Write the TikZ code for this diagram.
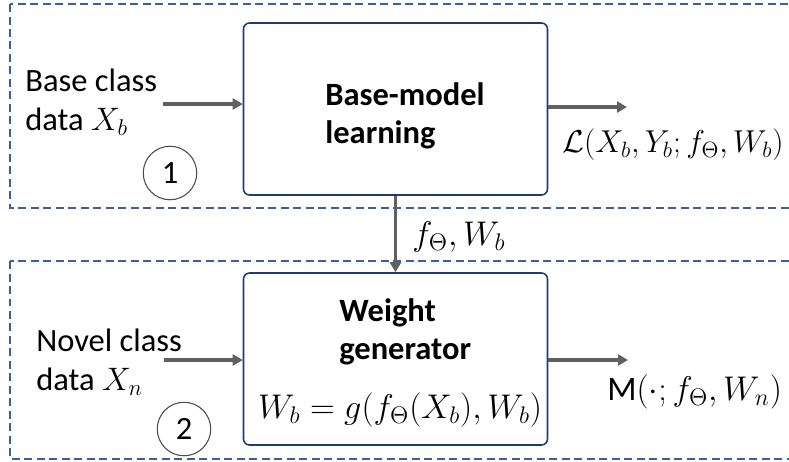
\RequirePackage{fix-cm}
\documentclass[tikz,border=0pt]{standalone}
\usepackage{amsmath,amssymb}
\usepackage{fontspec}
\setmainfont{Carlito}
\usepackage{tikz}
\usetikzlibrary{positioning,calc,arrows.meta}

\definecolor{stageblue}{HTML}{3C5E9E}
\definecolor{boxnavy}{HTML}{1F3A73}
\definecolor{flowgray}{HTML}{606060}

\begin{document}
\begin{tikzpicture}[x=0.02cm, y=-0.02cm,
    stage/.style={draw=stageblue, line width=0.9pt, dash pattern=on 0.16cm off 0.09cm},
    procbox/.style={draw=boxnavy, line width=0.9pt, rounded corners=0.12cm, minimum width=6.08cm, minimum height=3.44cm},
    flow/.style={draw=flowgray, line width=1.8pt, -{Triangle[length=0.2cm, width=0.22cm]}},
    stepnum/.style={draw=black!70, circle, line width=0.6pt, minimum size=1.07cm, inner sep=0pt},
    txt/.style={font=\fontsize{18.5}{22.5}\selectfont, inner sep=0pt},
    mathtxt/.style={font=\fontsize{19.5}{24}\selectfont, inner sep=0pt}]
            \useasboundingbox (0,0) rectangle (789,461);
            \clip (0,0) rectangle (789,461);

            % Stages
            \foreach \t/\b in {4/208, 261/459} {
                \draw[stage] (10,\t) rectangle (820,\b);
            }

            % Blocks
            \node[procbox] (base) at (395.5,109) {};
            \node[procbox] (gen) at (395.5,359) {};
            \node[txt, font=\fontsize{18.5}{21.5}\selectfont\bfseries, align=left, anchor=west] (basetxt) at (325,116) {Base-model\\learning};
            \node[txt, font=\fontsize{18.5}{22}\selectfont\bfseries, align=left, anchor=west] (gentxt) at (339,332) {Weight\\generator};
            \node[mathtxt] (genrule) at (400,410) {$W_b = g(f_\Theta(X_b), W_b)$};

            % Inputs and outputs
            \node[txt, anchor=west, align=left] (basedata) at (25,102) {Base class\\data $X_b$};
            \node[txt, anchor=west, align=left] (noveldata) at (36,362) {Novel class\\data $X_n$};
            \node[mathtxt, font=\fontsize{18}{22}\selectfont, anchor=west] (loss) at (562,145) {$\mathcal{L}(X_b, Y_b; f_\Theta, W_b)$};
            \node[mathtxt, anchor=west] (model) at (607,392) {M$(\cdot; f_\Theta, W_n)$};
            \node[mathtxt, anchor=west] (feat) at (412,237) {$f_\Theta, W_b$};
            \coordinate (in1) at (163,104);
            \coordinate (out1) at (627,107);
            \coordinate (in2) at (164,360);
            \coordinate (out2) at (628,360);

            % Arrows
            \draw[flow] (in1) -- (in1 -| base.west);
            \draw[flow] (out1 -| base.east) -- (out1);
            \draw[flow] (base.south) -- (gen.north);
            \draw[flow] (in2) -- (in2 -| gen.west);
            \draw[flow] (out2 -| gen.east) -- (out2);

            % Step numbers
            \node[stepnum, txt] (one) at (170,173) {1};
            \node[stepnum, txt] (two) at (184,429) {2};
        \end{tikzpicture}
\end{document}
